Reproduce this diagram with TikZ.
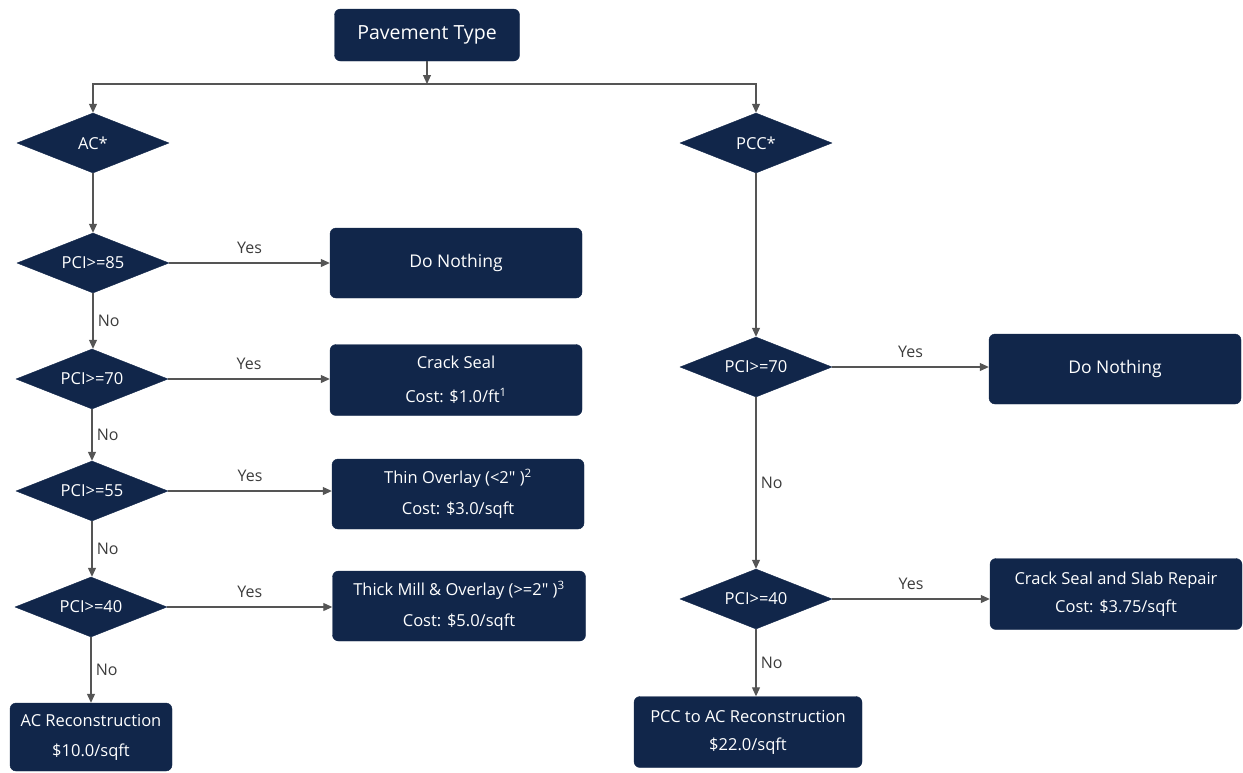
\documentclass[tikz,border=0pt]{standalone}
\usepackage{fontspec}
\setmainfont{Open Sans}[Ligatures=TeXOff]
\usetikzlibrary{shapes.geometric,arrows.meta}
\definecolor{navy}{RGB}{17,38,74}
\definecolor{wire}{RGB}{85,85,85}
\definecolor{lbl}{RGB}{60,60,60}
\begin{document}
\begin{tikzpicture}[x=1pt,y=-1pt,
  box/.style={fill=navy,draw=navy,rounded corners=6pt,text=white,align=center,
    inner sep=0pt,font=\fontsize{16.5}{31}\selectfont},
  dec/.style={diamond,fill=navy,draw=navy,text=white,inner sep=0pt,aspect=2.5,
    minimum width=152pt,minimum height=60pt,font=\fontsize{16.5}{18}\selectfont},
  conn/.style={draw=wire,line width=1.1pt,-{Triangle[length=9pt,width=8pt]}},
  yes/.style={midway,above=5pt,text=lbl,font=\fontsize{16}{18}\selectfont},
  no/.style={midway,right=1pt,text=lbl,font=\fontsize{16}{18}\selectfont}]
\useasboundingbox (0,0) rectangle (1243,772);

\node[box,minimum width=185pt,minimum height=52pt,font=\fontsize{19.5}{22}\selectfont] (pt) at (427,35) {Pavement Type};
\coordinate (split) at (427,84);

% AC branch
\node[dec] (ac) at (93,143) {AC*};
\node[dec] (a85) at (93,263) {PCI>=85};
\node[dec] (a70) at (92,379) {PCI>=70};
\node[dec] (a55) at (92,491) {PCI>=55};
\node[dec] (a40) at (91,607) {PCI>=40};
\node[box,minimum width=252pt,minimum height=70pt,font=\fontsize{17.5}{20}\selectfont] (dn1) at (456,263) {Do Nothing};
\node[box,minimum width=252pt,minimum height=71pt,font=\fontsize{16.5}{34}\selectfont] (cs) at (456,380) {Crack Seal\\Cost: \$1.0/ft\textsuperscript{1}};
\node[box,minimum width=252pt,minimum height=70pt] (thin) at (458,494) {Thin Overlay (<2" )\textsuperscript{2}\\Cost: \$3.0/sqft};
\node[box,minimum width=253pt,minimum height=70pt] (thick) at (459,606) {Thick Mill \& Overlay (>=2" )\textsuperscript{3}\\Cost: \$5.0/sqft};
\node[box,minimum width=162pt,minimum height=68pt,font=\fontsize{16.5}{30}\selectfont] (acr) at (91,737) {AC Reconstruction\\\$10.0/sqft};

% PCC branch
\node[dec] (pcc) at (756,143) {PCC*};
\node[dec] (p70) at (756,367) {PCI>=70};
\node[dec] (p40) at (756,599) {PCI>=40};
\node[box,minimum width=252pt,minimum height=70pt,font=\fontsize{17.5}{20}\selectfont] (dn2) at (1115,369) {Do Nothing};
\node[box,minimum width=252pt,minimum height=71pt,font=\fontsize{16.5}{28}\selectfont] (slab) at (1116,594) {Crack Seal and Slab Repair\\Cost: \$3.75/sqft};
\node[box,minimum width=228pt,minimum height=71pt,font=\fontsize{16.5}{28}\selectfont] (pccr) at (748,732) {PCC to AC Reconstruction\\\$22.0/sqft};

% connectors
\draw[conn] (pt) -- (split);
\draw[conn] (split) -| (ac);
\draw[conn] (split) -| (pcc);
\draw[conn] (ac) -- (a85);
\draw[conn] (a85) -- node[yes]{Yes} (dn1);
\draw[conn] (a85.south) -- node[no]{No} (a85.south |- a70.north);
\draw[conn] (a70) -- node[yes]{Yes} (a70 -| cs.west);
\draw[conn] (a70.south) -- node[no]{No} (a70.south |- a55.north);
\draw[conn] (a55) -- node[yes]{Yes} (a55 -| thin.west);
\draw[conn] (a55.south) -- node[no]{No} (a55.south |- a40.north);
\draw[conn] (a40) -- node[yes]{Yes} (a40 -| thick.west);
\draw[conn] (a40.south) -- node[no]{No} (a40.south |- acr.north);

\draw[conn] (pcc) -- (p70);
\draw[conn] (p70) -- node[yes]{Yes} (p70 -| dn2.west);
\draw[conn] (p70) -- node[no]{No} (p40);
\draw[conn] (p40) -- node[yes]{Yes} (p40 -| slab.west);
\draw[conn] (p40.south) -- node[no]{No} (p40.south |- pccr.north);
\end{tikzpicture}
\end{document}
